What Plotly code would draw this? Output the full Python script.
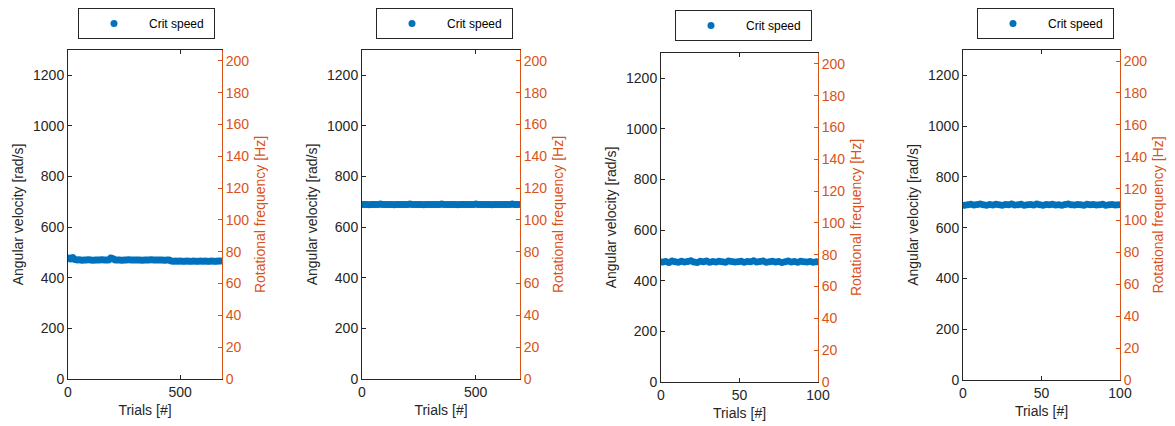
import plotly.graph_objects as go
import math

# ---------------- data ----------------
# Panel 1: ~687 trials, sampled every 10th trial
trials_1 = list(range(1, 688, 10))
speed_1 = [478, 474, 480, 472, 470, 471, 469, 470, 470, 471,
           470, 469, 470, 470, 470, 471, 470, 470, 470, 478,
           475, 470, 470, 470, 469, 470, 470, 471, 470, 470,
           470, 470, 470, 469, 470, 470, 470, 471, 470, 470,
           470, 470, 470, 469, 470, 470, 466, 465, 466, 465,
           466, 465, 465, 466, 465, 465, 466, 465, 465, 466,
           465, 466, 465, 465, 466, 465, 465, 466, 466]
# Panel 2: ~695 trials, sampled every 10th trial
trials_2 = list(range(1, 696, 10))
speed_2 = [690, 690, 690, 689, 690, 690, 690, 690, 691, 690,
           690, 690, 690, 690, 689, 690, 690, 690, 690, 690,
           690, 691, 690, 690, 690, 690, 690, 689, 690, 690,
           690, 690, 690, 690, 690, 691, 690, 690, 690, 690,
           690, 690, 689, 690, 690, 690, 690, 690, 690, 690,
           691, 690, 690, 690, 690, 690, 690, 689, 690, 690,
           690, 690, 690, 690, 690, 690, 691, 690, 690, 690]
# Panel 3: 100 trials, every 2nd trial
trials_3 = list(range(1, 101, 2))
speed_3 = [474, 476, 472, 478, 475, 473, 477, 474, 476, 479,
           474, 472, 477, 475, 478, 473, 476, 474, 477, 475,
           473, 478, 476, 474, 475, 477, 473, 476, 475, 479,
           474, 476, 478, 473, 475, 477, 474, 476, 472, 475,
           478, 474, 476, 473, 477, 475, 474, 476, 473, 475]
# Panel 4: 100 trials, every 2nd trial
trials_4 = list(range(1, 101, 2))
speed_4 = [688, 690, 692, 689, 691, 693, 690, 688, 691, 689,
           692, 690, 688, 691, 690, 693, 689, 690, 692, 688,
           690, 691, 689, 693, 690, 688, 691, 690, 692, 689,
           690, 688, 691, 693, 690, 689, 691, 690, 688, 692,
           690, 691, 689, 690, 692, 688, 690, 691, 689, 690]

x_max = [687, 695, 100, 100]
x_ticks = [[0, 500], [0, 500], [0, 50, 100], [0, 50, 100]]
left_ticks = [0, 200, 400, 600, 800, 1000, 1200]
right_ticks = [0, 20, 40, 60, 80, 100, 120, 140, 160, 180, 200]
series_name = "Crit speed"
y_title_left = "Angular velocity [rad/s]"
y_title_right = "Rotational frequency [Hz]"
x_title = "Trials [#]"

trials = [trials_1, trials_2, trials_3, trials_4]
speeds = [speed_1, speed_2, speed_3, speed_4]

# ---------------- layout geometry ----------------
PAGE_W, PAGE_H = 1175, 426
OFF = 8  # default page body margin
W, H = PAGE_W - OFF, PAGE_H - OFF
px_boxes = [  # left, right, top, bottom (page pixels)
    (68, 222, 50, 379),
    (362, 520, 50, 379),
    (661, 818, 53, 382),
    (963, 1120, 50, 380),
]
legend_pos = [(78, 8), (376, 8), (675, 10), (977, 8)]


def fx(p):
    return (p - OFF) / W


def fy(p):
    return 1 - (p - OFF) / H


BLUE = "#0072BD"
ORANGE = "#D95319"
DARK = "#262626"
FONT = "Liberation Sans, Arial, sans-serif"

Y_MAX = 1300
HZ_MAX = Y_MAX / (2 * math.pi)

fig = go.Figure()
layout = dict(
    width=W, height=H,
    margin=dict(l=0, r=0, t=0, b=0, autoexpand=False),
    paper_bgcolor="white", plot_bgcolor="white",
    font=dict(family=FONT, size=14, color=DARK),
    showlegend=True,
)

for i in range(4):
    n = i + 1
    xa = "x" if n == 1 else f"x{n}"
    ya = "y" if n == 1 else f"y{2*n-1}"
    yr = f"y{2*n}"
    leg = "legend" if n == 1 else f"legend{n}"
    fig.add_trace(go.Scatter(
        x=trials[i], y=speeds[i], mode="markers", name=series_name,
        marker=dict(color=BLUE, size=7), xaxis=xa, yaxis=ya, legend=leg,
    ))
    # invisible trace to bind right axis
    fig.add_trace(go.Scatter(
        x=[0], y=[0], mode="markers", marker=dict(opacity=0),
        showlegend=False, hoverinfo="skip", xaxis=xa, yaxis=yr,
    ))
    l, r, t, b = px_boxes[i]
    xdom = [fx(l), fx(r)]
    ydom = [fy(b), fy(t)]
    xkey = "xaxis" if n == 1 else f"xaxis{n}"
    ykey = "yaxis" if n == 1 else f"yaxis{2*n-1}"
    yrkey = f"yaxis{2*n}"
    layout[xkey] = dict(
        domain=xdom, anchor=ya, automargin=False,
        range=[0, x_max[i]], tickvals=x_ticks[i], showgrid=False, zeroline=False,
        showline=True, linecolor=DARK, linewidth=1, mirror="ticks",
        ticks="inside", ticklen=4, tickcolor=DARK,
        title=dict(text=x_title, font=dict(size=14, color=DARK), standoff=6),
        tickfont=dict(size=14, color=DARK),
    )
    layout[ykey] = dict(
        domain=ydom, anchor=xa, automargin=False, range=[0, Y_MAX], tickvals=left_ticks,
        showgrid=False, zeroline=False, showline=True, linecolor=DARK, linewidth=1,
        ticks="inside", ticklen=4, tickcolor=DARK,
        title=dict(text=y_title_left, font=dict(size=14, color=DARK), standoff=6),
        tickfont=dict(size=14, color=DARK),
    )
    layout[yrkey] = dict(
        domain=ydom, anchor=xa, automargin=False, overlaying=ya, side="right",
        range=[0, HZ_MAX], tickvals=right_ticks,
        showgrid=False, zeroline=False, showline=True, linecolor=ORANGE, linewidth=1,
        ticks="inside", ticklen=4, tickcolor=ORANGE,
        title=dict(text=y_title_right, font=dict(size=14, color=ORANGE), standoff=6),
        tickfont=dict(size=14, color=ORANGE),
    )
    lx, ly = legend_pos[i]
    layout[leg] = dict(
        x=fx(lx), y=fy(ly), xanchor="left", yanchor="top",
        orientation="h", bordercolor=DARK, borderwidth=1, bgcolor="white",
        font=dict(family=FONT, size=12, color="black"),
        itemwidth=60, entrywidth=60, entrywidthmode="pixels",
    )

fig.update_layout(**layout)
fig.write_html("out.html")
